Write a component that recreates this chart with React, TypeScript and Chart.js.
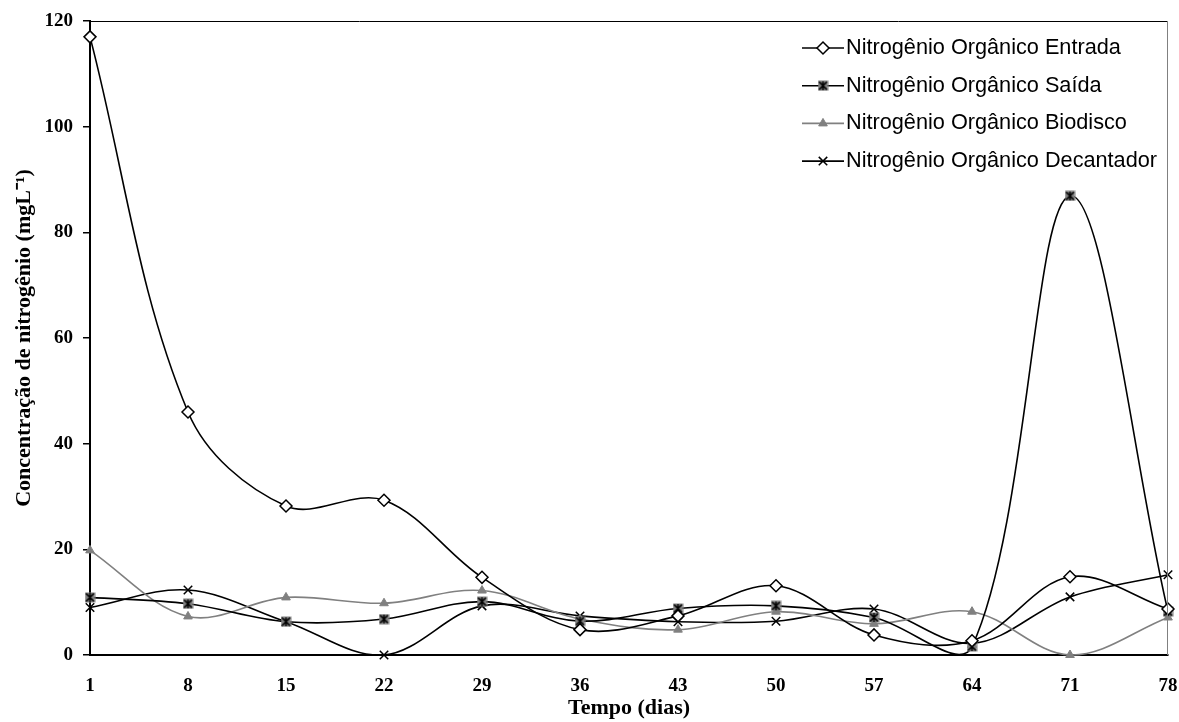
import React, { useEffect, useRef } from "react";
import { Chart, registerables } from "chart.js";
import { drawPoint } from "chart.js/helpers";

Chart.register(...registerables);

const categories = ["1", "8", "15", "22", "29", "36", "43", "50", "57", "64", "71", "78"];
const entrada = [117, 46, 28.2, 29.3, 14.7, 4.8, 7.4, 13.1, 3.8, 2.7, 14.8, 8.7];
const saida = [10.9, 9.7, 6.3, 6.8, 10.1, 6.4, 8.8, 9.3, 7.1, 1.6, 86.9, 8.2];
const biodisco = [19.8, 7.3, 10.9, 9.8, 12.2, 6.8, 4.8, 8.2, 5.9, 8.2, 0, 7.1];
const decantador = [9.0, 12.3, 6.3, 0, 9.3, 7.4, 6.3, 6.4, 8.7, 2.2, 11.0, 15.2];
const seriesNames = [
  "Nitrogênio Orgânico Entrada",
  "Nitrogênio Orgânico Saída",
  "Nitrogênio Orgânico Biodisco",
  "Nitrogênio Orgânico Decantador",
];
const yTicks = [0, 20, 40, 60, 80, 100, 120];

function makeSaidaMarker(): HTMLCanvasElement {
  const c = document.createElement("canvas");
  c.width = 11;
  c.height = 11;
  const ctx = c.getContext("2d")!;
  ctx.fillStyle = "#7f7f7f";
  ctx.fillRect(0.5, 0.5, 10, 10);
  ctx.strokeStyle = "#000";
  ctx.lineWidth = 1.6;
  ctx.beginPath();
  ctx.moveTo(1.5, 1.5); ctx.lineTo(9.5, 9.5);
  ctx.moveTo(9.5, 1.5); ctx.lineTo(1.5, 9.5);
  ctx.moveTo(5.5, 1); ctx.lineTo(5.5, 10);
  ctx.stroke();
  return c;
}

export default function App() {
  const ref = useRef<HTMLCanvasElement>(null);
  useEffect(() => {
    document.body.style.margin = "0";
    const saidaMarker = makeSaidaMarker();
    const serif = "'Liberation Serif', 'Times New Roman', serif";

    const frame = {
      id: "frame",
      afterDraw(chart: any) {
        const { ctx, chartArea } = chart;
        ctx.save();
        ctx.lineWidth = 1;
        ctx.strokeStyle = "#000";
        ctx.beginPath();
        ctx.moveTo(chartArea.left, chartArea.top + 0.5);
        ctx.lineTo(chartArea.right, chartArea.top + 0.5);
        ctx.stroke();
        ctx.strokeStyle = "#808080";
        ctx.beginPath();
        ctx.moveTo(chartArea.right - 0.5, chartArea.top);
        ctx.lineTo(chartArea.right - 0.5, chartArea.bottom);
        ctx.stroke();

        // legend
        const x0 = 802, x1 = 844, tx = 846;
        chart.data.datasets.forEach((ds: any, i: number) => {
          const y = 48 + i * 37.7;
          ctx.strokeStyle = ds.borderColor;
          ctx.lineWidth = 1.6;
          ctx.beginPath();
          ctx.moveTo(x0, y);
          ctx.lineTo(x1, y);
          ctx.stroke();
          ctx.fillStyle = ds.pointBackgroundColor;
          ctx.strokeStyle = ds.pointBorderColor;
          ctx.lineWidth = ds.pointBorderWidth;
          drawPoint(ctx, {
            radius: ds.pointRadius,
            pointStyle: ds.pointStyle,
            rotation: 0,
            borderWidth: ds.pointBorderWidth,
          } as any, (x0 + x1) / 2, y);
          ctx.fillStyle = "#000";
          ctx.font = "21.7px 'Liberation Sans', Arial, sans-serif";
          ctx.textBaseline = "middle";
          ctx.textAlign = "left";
          ctx.fillText(seriesNames[i], tx, y);
        });
        ctx.restore();
      },
    };

    const common = {
      fill: false,
      tension: 0.35,
      borderWidth: 1.6,
      clip: false as any,
    };

    const chart = new Chart(ref.current!, {
      type: "line",
      data: {
        labels: categories,
        datasets: [
          {
            ...common,
            label: seriesNames[0],
            data: entrada,
            borderColor: "#000",
            pointStyle: "rectRot",
            pointRadius: 6,
            pointBackgroundColor: "#fff",
            pointBorderColor: "#000",
            pointBorderWidth: 1.5,
          },
          {
            ...common,
            label: seriesNames[1],
            data: saida,
            borderColor: "#000",
            pointStyle: saidaMarker as any,
            pointRadius: 5,
            pointBackgroundColor: "#7f7f7f",
            pointBorderColor: "#000",
            pointBorderWidth: 1,
          },
          {
            ...common,
            label: seriesNames[2],
            data: biodisco,
            borderColor: "#808080",
            pointStyle: "triangle",
            pointRadius: 5,
            pointBackgroundColor: "#808080",
            pointBorderColor: "#808080",
            pointBorderWidth: 1,
          },
          {
            ...common,
            label: seriesNames[3],
            data: decantador,
            borderColor: "#000",
            pointStyle: "crossRot",
            pointRadius: 6,
            pointBackgroundColor: "#000",
            pointBorderColor: "#000",
            pointBorderWidth: 1.5,
          },
        ],
      },
      options: {
        animation: false,
        responsive: false,
        maintainAspectRatio: false,
        layout: { padding: { top: 21, right: 11, left: 0, bottom: 0 } },
        elements: { line: { capBezierPoints: false } },
        plugins: { legend: { display: false }, tooltip: { enabled: false } },
        scales: {
          x: {
            type: "category",
            offset: false,
            grid: { display: false, drawOnChartArea: false, drawTicks: true, tickLength: 7, color: "#000", lineWidth: 1.5 },
            border: { display: true, color: "#000", width: 2 },
            ticks: {
              color: "#000",
              padding: 13,
              maxRotation: 0,
              autoSkip: false,
              font: { family: serif, size: 19, weight: "bold" },
            },
            title: {
              display: true,
              text: "Tempo (dias)",
              color: "#000",
              font: { family: serif, size: 22, weight: "bold" },
              padding: { top: 0, bottom: 0 },
            },
            afterFit(scale: any) {
              scale.height = 67;
              scale.paddingLeft = 0;
              scale.paddingRight = 0;
            },
          },
          y: {
            min: 0,
            max: 120,
            afterBuildTicks(scale: any) {
              scale.ticks = yTicks.map((v) => ({ value: v }));
            },
            grid: { display: true, drawOnChartArea: false, drawTicks: true, tickLength: 7, color: "#000", lineWidth: 1.5 },
            border: { display: true, color: "#000", width: 2 },
            ticks: {
              color: "#000",
              padding: 10,
              font: { family: serif, size: 19, weight: "bold" },
            },
            title: {
              display: true,
              text: "Concentração de nitrogênio (mgL⁻¹)",
              color: "#000",
              font: { family: serif, size: 22, weight: "bold" },
              padding: { top: 11, bottom: 0 },
            },
            afterFit(scale: any) {
              scale.width = 90;
              scale.paddingTop = 0;
              scale.paddingBottom = 0;
            },
          },
        },
      },
      plugins: [frame],
    } as any);
    return () => chart.destroy();
  }, []);

  return (
    <div style={{ width: 1179, height: 722 }}>
      <canvas ref={ref} width={1179} height={722} style={{ display: "block" }} />
    </div>
  );
}
